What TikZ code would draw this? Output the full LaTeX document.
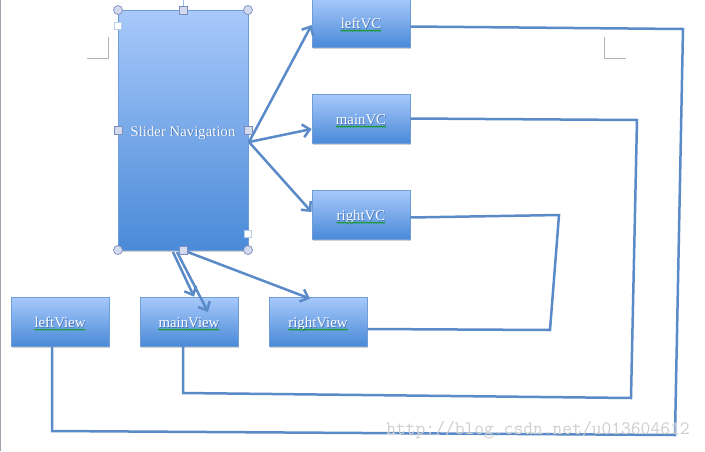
\documentclass[tikz,border=0pt]{standalone}
\usepackage{fontspec}
\setmainfont{Liberation Serif}
\usetikzlibrary{arrows.meta,shadows,decorations.pathmorphing}
\definecolor{boxtop}{HTML}{A8C9FB}
\definecolor{boxbot}{HTML}{4A8AD8}
\definecolor{boxedge}{HTML}{6F9DD8}
\definecolor{linec}{HTML}{5A8AC8}
\definecolor{handlefill}{HTML}{D3DAEE}
\definecolor{handleedge}{HTML}{7B8CBF}
\definecolor{cropc}{HTML}{B4B4B4}
\definecolor{edgec}{HTML}{A0A4AC}
\definecolor{wmc}{HTML}{CDCDCD}
\definecolor{txtsh}{HTML}{3F6DAE}
\newcommand\shtext[1]{\rlap{\hspace{0.7pt}\raisebox{-0.7pt}{\textcolor{txtsh}{#1}}}#1}
\tikzset{
  bluebox/.style={draw=boxedge, line width=0.8pt, top color=boxtop, bottom color=boxbot,
    minimum width=98pt, minimum height=49pt, inner sep=0pt,
    drop shadow={shadow xshift=1pt, shadow yshift=-1.5pt, opacity=0.3, fill=black!60}},
  bigbox/.style={bluebox, minimum width=130pt, minimum height=240pt},
  lbl/.style={text=white, font=\fontsize{14.8}{16}\selectfont, inner sep=0pt, anchor=base},
  squig/.style={draw=green!60!black, line width=0.6pt, decorate,
    decoration={snake, amplitude=0.6pt, segment length=2.5pt}},
  conn/.style={draw=linec, line width=2.5pt, line join=miter},
  arr/.style={conn, -{Straight Barb[length=7pt,width=13pt]}},
  hcircle/.style={circle, draw=handleedge, fill=handlefill, line width=0.7pt, minimum size=9pt, inner sep=0pt},
  hsquare/.style={rectangle, draw=handleedge, fill=handlefill, line width=0.7pt, minimum size=8pt, inner sep=0pt},
  wsquare/.style={rectangle, draw=boxedge!50, fill=white, line width=0.5pt, minimum size=7pt, inner sep=0pt},
  crop/.style={draw=cropc, line width=0.8pt},
}
\begin{document}
\begin{tikzpicture}[x=1pt,y=-1pt]
\useasboundingbox (0,0) rectangle (705,451);
\draw[edgec, line width=1.2pt] (0.6,0) -- (0.6,451);
% crop marks
\draw[crop] (87,58) -- (108,58) -- (108,37);
\draw[crop] (626,58) -- (604,58) -- (604,37);
% boxes
\node[bigbox] (main) at (183,130) {};
\node[bluebox] (leftVC) at (361,22.5) {};
\node[bluebox] (mainVC) at (361,118.5) {};
\node[bluebox] (rightVC) at (361,214.5) {};
\node[bluebox] (leftView) at (60,321.5) {};
\node[bluebox] (mainView) at (189,321.5) {};
\node[bluebox] (rightView) at (318,321.5) {};
% labels
\node[lbl] (tmain) at ([yshift=-6pt]main.center) {\shtext{Slider Navigation}};
\node[lbl] (t1) at ([yshift=-6pt]leftVC.center) {\shtext{leftVC}};
\node[lbl] (t2) at ([yshift=-6pt]mainVC.center) {\shtext{mainVC}};
\node[lbl] (t3) at ([yshift=-6pt]rightVC.center) {\shtext{rightVC}};
\node[lbl] (t4) at ([yshift=-6pt]leftView.center) {\shtext{leftView}};
\node[lbl] (t5) at ([yshift=-6pt]mainView.center) {\shtext{mainView}};
\node[lbl] (t6) at ([yshift=-6pt]rightView.center) {\shtext{rightView}};
\foreach \t in {t1,t2,t3,t4,t5,t6}{
  \draw[squig] ([yshift=-2.2pt]\t.base west) -- ([yshift=-2.2pt]\t.base east);
}
% arrows from main box
\coordinate (s1) at (249,142);
\draw[arr] (s1) -- ([yshift=-2.5pt]leftVC.west);
\draw[arr] (s1) -- ([yshift=-10.5pt]mainVC.west);
\draw[arr] (s1) -- ([yshift=2.5pt]rightVC.west);
\coordinate (s2) at (173,252);
\coordinate (s3) at (177,252);
\coordinate (s4) at (185,251);
\coordinate (e3) at (208,312);
\draw[arr] (s2) -- ([xshift=5pt]mainView.north);
\draw[arr] (s3) -- (e3);
\draw[arr] (s4) -- ([xshift=-8pt,yshift=-2pt]rightView.north);
% return connectors
\coordinate (a1) at (683,29);
\coordinate (a2) at (675,435);
\coordinate (a3) at (52,431);
\draw[conn] ([yshift=-4pt]leftVC.east) -- (a1) -- (a2) -- (a3) -- (a3 |- leftView.south);
\coordinate (b1) at (637,120);
\coordinate (b2) at (631,398);
\coordinate (b3) at (183,393);
\draw[conn] (mainVC.east) -- (b1) -- (b2) -- (b3) -- (b3 |- mainView.south);
\coordinate (c1) at (559,215);
\coordinate (c2) at (550,330);
\draw[conn] ([yshift=-3pt]rightVC.east) -- (c1) -- (c2) -- ([yshift=-7.5pt]rightView.east);
% selection handles
\draw[boxedge!70, line width=0.6pt] (183,0) -- (183,6);
\foreach \p/\n in {{(118,10)}/hc1,{(248,10)}/hc2,{(118,250)}/hc3,{(248,250)}/hc4}{
  \node[hcircle] (\n) at \p {};
}
\foreach \p/\n in {{(183,10)}/hs1,{(118,130)}/hs2,{(248,130)}/hs3,{(183,250)}/hs4}{
  \node[hsquare] (\n) at \p {};
}
\node[wsquare] (w1) at (118,26) {};
\node[wsquare] (w2) at (248,234) {};
% watermark
\node[text=wmc, font=\ttfamily\fontsize{19}{21}\selectfont, inner sep=0pt] (wm) at (538,430) {http://blog.csdn.net/u013604612};
\end{tikzpicture}
\end{document}
